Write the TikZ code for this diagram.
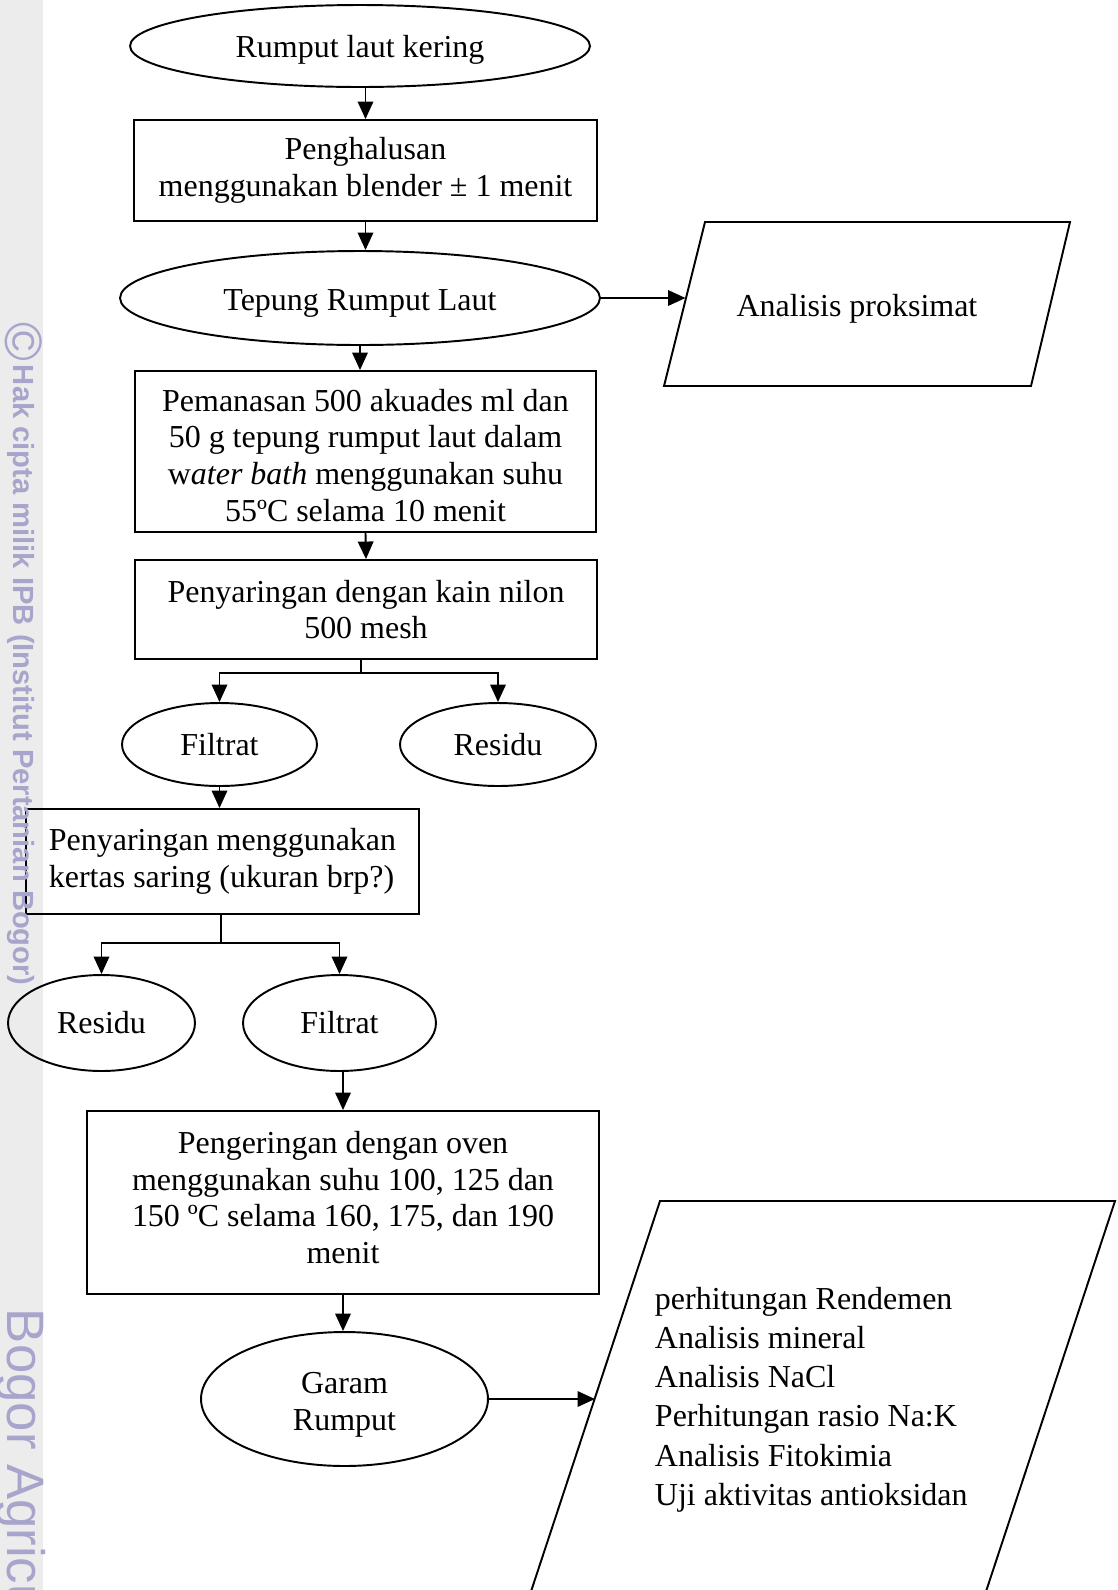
\documentclass[tikz,border=0pt]{standalone}
\usepackage{fontspec}
\setmainfont{Liberation Serif}
\newfontfamily\wmfont{Liberation Sans}
\usetikzlibrary{arrows.meta,shapes.geometric}
\definecolor{wmband}{RGB}{236,236,236}
\definecolor{wmtext}{RGB}{168,165,204}

\begin{document}
\begin{tikzpicture}[x=0.02cm, y=-0.02cm, line width=1.1pt,
  every node/.style={draw, inner sep=0pt, font=\fontsize{18.2}{20.9}\selectfont},
  proc/.style={rectangle, align=center},
  oval/.style={ellipse, align=center},
  datatext/.style={draw=none, align=left},
  textdown/.style={execute at begin node={\rule{0pt}{#1}}},
  textup/.style={execute at end node={\rule[-#1]{0pt}{0pt}}},
  wmark/.style={draw=none, text=wmtext, rotate=-90},
  arr/.style={-{Triangle[length=3.5mm,width=3.1mm]}}]
  \useasboundingbox (0,0) rectangle (1118,1590);
  \fill[wmband] (0,0) rectangle (43,1590);

  \node[oval, textdown=17pt, minimum width=9.2cm, minimum height=1.64cm] (kering) at (360,46) {Rumput laut kering};
  \node[proc, minimum width=9.26cm, minimum height=2.02cm] (halus) at (365.5,170.5) {Penghalusan\\menggunakan blender ± 1 menit};
  \node[oval, textdown=18pt, minimum width=9.6cm, minimum height=1.88cm] (tepung) at (360,298) {Tepung Rumput Laut};
  \node[proc, minimum width=9.22cm, minimum height=3.22cm] (panas) at (365.5,451.5) {\rule{0pt}{17pt}Pemanasan 500 akuades ml dan\\50 g tepung rumput laut dalam\\w\textit{ater bath} menggunakan suhu\\55ºC selama 10 menit};
  \node[proc, minimum width=9.24cm, minimum height=1.98cm] (nilon) at (366,609.5) {Penyaringan dengan kain nilon\\500 mesh};
  \node[oval, minimum width=3.9cm, minimum height=1.66cm] (filtratA) at (219.5,744.5) {Filtrat};
  \node[oval, minimum width=3.92cm, minimum height=1.66cm] (residuA) at (498,744.5) {Residu};
  \node[proc, align=left, minimum width=7.86cm, minimum height=2.1cm] (kertas) at (222.5,861.5) {Penyaringan menggunakan\\kertas saring (ukuran brp?)};
  \node[oval, minimum width=3.74cm, minimum height=1.92cm] (residuB) at (101.5,1023) {Residu};
  \node[oval, minimum width=3.86cm, minimum height=1.92cm] (filtratB) at (339.5,1023) {Filtrat};
  \node[proc, textup=5.7pt, minimum width=10.24cm, minimum height=3.66cm] (oven) at (343,1202.5) {Pengeringan dengan oven\\menggunakan suhu 100, 125 dan\\150 ºC selama 160, 175, dan 190\\menit};
  \node[oval, minimum width=5.74cm, minimum height=2.68cm] (garam) at (344.5,1399) {\rule{0pt}{19pt}Garam\\Rumput};

  % output parallelograms
  \draw (705,222) -- (1070,222) -- (1031,386) -- (664,386) -- cycle;
  \node[datatext, textdown=15.8pt] (proksimat) at (857,306) {Analisis proksimat};
  \coordinate (proksimatIn) at (685.5,300);
  \draw (660,1201) -- (1115,1201) -- (985.5,1593) -- (530.5,1593) -- cycle;
  \node[datatext, anchor=west, font=\fontsize{18.2}{22.2}\selectfont] (analisis) at (654,1397) {\rule{0pt}{15.8pt}perhitungan Rendemen\\Analisis mineral\\Analisis NaCl\\Perhitungan rasio Na:K\\Analisis Fitokimia\\Uji aktivitas antioksidan};
  \coordinate (analisisIn) at (595,1397);

  \coordinate (cabangA) at (361,673);
  \coordinate (cabangB) at (221,943);

  \draw[arr] (halus.north |- kering.south) -- (halus.north);
  \draw[arr] (halus.south) -- (halus.south |- tepung.north);
  \draw[arr] (tepung.east) -- (tepung.east -| proksimatIn);
  \draw[arr] (tepung.south) -- (tepung.south |- panas.north);
  \draw[arr] (panas.south) -- (nilon.north);
  \draw (cabangA |- nilon.south) -- (cabangA);
  \draw[arr] (cabangA) -| (filtratA.north);
  \draw[arr] (cabangA) -| (residuA.north);
  \draw[arr] (filtratA.south) -- (filtratA.south |- kertas.north);
  \draw (cabangB |- kertas.south) -- (cabangB);
  \draw[arr] (cabangB) -| (residuB.north);
  \draw[arr] (cabangB) -| (filtratB.north);
  \draw[arr] (oven.north |- filtratB.south) -- (oven.north);
  \draw[arr] (oven.south) -- (oven.south |- garam.north);
  \draw[arr] (garam.east) -- (garam.east -| analisisIn);

  % watermark strip
  \node[wmark, font=\wmfont\fontsize{30}{30}\selectfont] (wmC) at (24,342) {©};
  \node[wmark, anchor=west, font=\wmfont\bfseries\fontsize{16.6}{18}\selectfont] (wmHak) at (21,364) {Hak cipta milik IPB (Institut Pertanian Bogor)};
  \node[wmark, anchor=west, font=\wmfont\fontsize{30}{30}\selectfont] (wmBogor) at (21,1308) {Bogor Agricultural University};
\end{tikzpicture}
\end{document}
